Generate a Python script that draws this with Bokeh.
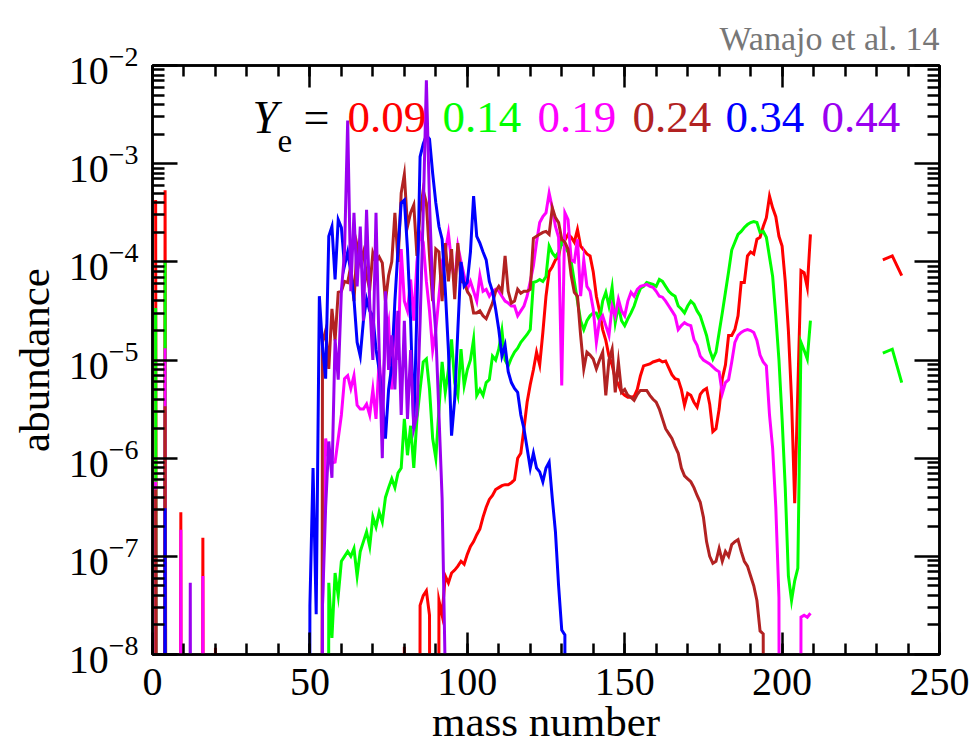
import numpy as np
from bokeh.plotting import figure
from bokeh.models import Range1d, FixedTicker, LinearAxis, LogAxis, Label
from bokeh.embed import file_html
from bokeh.resources import INLINE

# log10(abundance); Z marks "not produced" (far below the axis)
Z = -30.0
NAN = float("nan")

# ---------------- Ye = 0.09 (red)
red_light_A = [1, 2, 3, 4, 5, 8, 9, 10, 15, 16, 17, 19, 20, 21, 79, 80, 81, 84]
red_light_L = [-3.37, Z, Z, -3.27, Z, Z, -6.55, Z, Z, -6.81, Z, Z, -7.93, Z, Z, -7.92, Z, Z]
red_main_A = list(range(85, 210))
red_main_L = [
    -7.5, -7.4, -7.35, -7.6, Z, Z, -7.45, -7.6, -7.2, -7.27,
    -7.17, -7.14, -7.1, -7.05, -7.08, -6.98, -6.9, -6.85, -6.78, -6.72,
    -6.6, -6.5, -6.42, -6.38, -6.32, -6.3, -6.28, -6.27, -6.27, -6.25,
    -6.22, -6.0, -5.95, -5.7, -5.43, -5.25, -5.1, -4.92, -5.05, -4.72,
    -4.35, -4.1, -4.05, -3.98, -3.95, -3.77, -3.78, -3.72, -3.75, -3.8,
    -3.67, -3.84, -3.88, -3.92, -3.94, -4.1, -4.35, -4.5, -4.69, -4.8,
    -4.96, -5.05, -5.19, -5.25, -5.33, -5.36, -5.38, -5.38, -5.37, -5.3,
    -5.16, -5.06, -5.05, -5.04, -5.02, -5.01, -5.0, -5.02, -5.01, -5.08,
    -5.15, -5.19, -5.2, -5.3, -5.46, -5.34, -5.36, -5.43, -5.48, -5.35,
    -5.31, -5.29, -5.45, -5.73, -5.7, -5.5, -5.19, -5.05, -4.75, -4.75,
    -4.69, -4.55, -4.21, -4.21, -3.94, -3.9, -3.92, -3.77, -3.75, -3.64,
    -3.55, -3.33, -3.45, -3.54, -3.74, -3.84, -4.2, -4.7, -5.4, -6.46,
    -5.3, -4.09, -4.11, -4.26, -3.72,
]
red_act_A = [232, 235, 238]
red_act_L = [-3.98, -3.94, -4.14]

# ---------------- Ye = 0.14 (green)
green_light_A = [1, 2, 3, 4, 5]
green_light_L = [-4.47, Z, Z, -3.99, Z]
green_main_A = list(range(55, 210))
green_main_L = [
    Z, -7.27, -7.83, -7.17, -7.4, -7.05, -7.0, -6.95, -7.0, -6.92,
    -7.2, -6.95, -6.85, -6.75, -6.9, -6.6, -6.7, -6.55, -6.65, -6.4,
    -6.3, -6.21, -6.3, -6.15, -6.1, -5.6, -5.97, -5.67, -6.1, -5.6,
    -5.3, -5.02, -4.99, -5.3, -5.8, -6.0, -5.5, -5.02, -5.33, -5.1,
    -4.79, -5.23, -5.36, -4.89, -5.26, -5.1, -5.0, -4.79, -5.36, -5.3,
    -5.36, -5.23, -5.2, -4.96, -5.0, -4.89, -4.7, -5.0, -5.06, -4.98,
    -4.92, -4.88, -4.82, -4.78, -4.74, -4.69, -4.21, -4.2, -4.18, -4.2,
    -4.15, -3.84, -3.91, -3.95, -3.9, -3.8, -3.85, -3.9, -4.0, -4.2,
    -4.4, -4.6, -4.69, -4.6, -4.55, -4.52, -4.52, -4.6, -4.4, -4.31,
    -4.45, -4.26, -4.62, -4.45, -4.6, -4.65, -4.58, -4.52, -4.45, -4.35,
    -4.27, -4.25, -4.21, -4.22, -4.23, -4.25, -4.18, -4.2, -4.25, -4.3,
    -4.33, -4.35, -4.45, -4.48, -4.52, -4.45, -4.4, -4.43, -4.5, -4.55,
    -4.65, -4.75, -4.9, -4.99, -4.92, -4.72, -4.52, -4.31, -4.1, -3.88,
    -3.8, -3.72, -3.69, -3.65, -3.62, -3.6, -3.59, -3.6, -3.7, -3.69,
    -3.75, -3.95, -4.15, -4.55, -5.0, -5.6, -6.3, -7.2, -7.45, -7.25,
    -7.12, -4.82, -4.9, -4.99, -4.6,
]
green_act_A = [232, 235, 238]
green_act_L = [-4.93, -4.89, -5.23]

# ---------------- Ye = 0.19 (magenta)
magenta_light_A = [1, 2, 3, 4, 5, 8, 9, 10, 15, 16, 17]
magenta_light_L = [-6.24, Z, Z, -4.88, Z, Z, -6.73, Z, Z, -7.2, Z]
magenta_main_A = list(range(53, 210))
magenta_main_L = [
    Z, -7.5, -5.8, -6.0, -6.05, -6.04, -5.8, -5.56, -5.19, -5.16,
    -5.29, -5.16, -5.46, -5.5, -5.5, -5.45, -5.56, -5.3, -5.6, -5.0,
    -5.4, -4.8, -4.62, -5.3, -4.5, -5.0, -3.87, -4.4, -4.5, -4.18,
    -4.6, -4.0, -3.71, -3.8, -4.2, -4.5, -4.9, -4.7, -4.35, -4.0,
    -3.9, -3.71, -4.0, -4.21, -3.84, -4.0, -4.14, -4.28, -4.2, -4.3,
    -4.4, -4.14, -4.3, -4.28, -4.35, -4.3, -4.28, -4.3, -4.35, -4.4,
    -4.42, -4.45, -4.45, -4.55, -4.5, -4.45, -4.35, -4.2, -4.04, -3.8,
    -3.6, -3.54, -3.5, -3.3, -3.45, -3.64, -3.75, -5.26, -3.5, -3.57,
    -3.98, -4.0, -3.77, -4.35, -3.98, -4.25, -4.3, -4.48, -4.82, -4.6,
    -4.55, -4.65, -4.75, -4.45, -4.55, -4.38, -4.5, -4.55, -4.4, -4.31,
    -4.35, -4.28, -4.25, -4.24, -4.23, -4.25, -4.26, -4.3, -4.35, -4.36,
    -4.4, -4.45, -4.5, -4.55, -4.69, -4.65, -4.62, -4.64, -4.65, -4.79,
    -4.85, -4.96, -5.0, -5.02, -5.04, -5.07, -5.1, -5.12, -5.34, -5.23,
    -5.2, -5.02, -4.82, -4.75, -4.72, -4.7, -4.69, -4.7, -4.72, -4.8,
    -4.95, -5.02, -5.06, -5.56, -5.9, -6.5, -7.42, Z, Z, Z,
    Z, Z, Z, -7.62, -7.6, -7.62, -7.58,
]

# ---------------- Ye = 0.24 (brown)
brown_light_A = [1, 2, 3, 4, 5]
brown_light_L = [-6.32, Z, Z, -5.47, Z]
brown_main_A = list(range(53, 196))
brown_main_L = [
    Z, -4.82, -4.7, -5.09, -4.48, -4.8, -4.31, -4.3, -4.2, -4.21,
    -4.04, -4.4, -3.84, -4.01, -3.9, -4.14, -4.28, -3.91, -4.0, -3.95,
    -4.01, -4.4, -4.14, -4.0, -3.5, -4.0, -3.3, -3.11, -3.64, -3.5,
    -3.42, -3.94, -3.5, -3.27, -3.4, -3.94, -4.4, -3.87, -3.9, -4.4,
    -3.81, -4.2, -3.87, -4.38, -3.81, -4.2, -4.21, -4.3, -4.35, -4.52,
    -4.52, -4.5, -4.55, -4.58, -4.5, -4.42, -4.3, -4.25, -4.3, -3.94,
    -4.3, -4.42, -4.4, -4.28, -4.32, -4.3, -4.3, -4.28, -3.76, -3.74,
    -3.72, -3.7, -3.69, -3.72, -3.45, -3.55, -3.6, -3.77, -3.8, -3.87,
    -4.14, -4.31, -4.35, -4.75, -5.09, -4.92, -4.95, -4.99, -5.09, -5.0,
    -4.92, -5.36, -5.0, -4.89, -5.33, -5.02, -5.33, -5.3, -5.36, -5.38,
    -5.41, -5.35, -5.31, -5.31, -5.31, -5.36, -5.4, -5.43, -5.5, -5.6,
    -5.7, -5.75, -5.8, -5.88, -5.95, -6.1, -6.18, -6.21, -6.24, -6.3,
    -6.38, -6.45, -6.6, -6.85, -7.0, -7.07, -7.05, -6.92, -7.05, -6.95,
    -7.0, -6.88, -6.85, -6.83, -6.95, -7.05, -7.1, -7.2, -7.3, -7.45,
    -7.76, -7.79, Z,
]

# ---------------- Ye = 0.34 (blue)
blue_light_A = [3, 4, 5]
blue_light_L = [Z, -6.51, Z]
blue_main_A = list(range(49, 133))
blue_main_L = [
    Z, -7.5, -6.1, -7.59, -4.35, -4.86, -5.19, -3.74, -3.64, -4.18,
    -3.57, -3.65, -4.04, -3.9, -4.1, -4.38, -4.82, -4.96, -4.6, -4.38,
    -4.5, -4.55, -4.89, -5.1, -5.4, -5.8, -5.3, -5.06, -4.4, -3.87,
    -3.4, -3.37, -3.87, -4.6, -5.7, -4.48, -2.93, -2.8, -2.71, -2.75,
    -3.1, -3.4, -3.64, -3.77, -4.28, -4.9, -5.77, -5.4, -4.69, -4.0,
    -4.25, -4.21, -3.9, -3.33, -3.74, -3.81, -3.9, -3.98, -4.2, -4.3,
    -4.48, -4.69, -4.96, -4.85, -5.12, -5.23, -5.29, -5.33, -5.56, -5.7,
    -5.9, -6.1, -5.95, -6.1, -6.14, -6.24, -6.1, -6.04, -6.41, -6.75,
    -7.3, -7.75, -7.8, Z,
]

# ---------------- Ye = 0.44 (purple)
purple_light_A = [11, 12, 13]
purple_light_L = [Z, -7.27, Z]
purple_main_A = list(range(53, 95))
purple_main_L = [
    Z, -7.5, -6.5, -5.83, -6.2, -4.79, -5.2, -4.3, -3.9, -2.56,
    -4.3, -3.5, -4.25, -3.64, -4.6, -3.47, -4.42, -5.0, -3.5, -4.9,
    -6.0, -4.3, -5.1, -4.75, -5.3, -4.5, -5.56, -4.6, -5.6, -4.9,
    -5.7, -5.56, -4.62, -3.5, -2.15, -3.4, -4.3, -4.72, -5.56, -6.41,
    -8.2, Z,
]

ye_labels = ["0.09", "0.14", "0.19", "0.24", "0.34", "0.44"]
colors = ["#FF0000", "#00FF00", "#FF00FF", "#B22222", "#0000FF", "#9A00F0"]

series = [
    [(red_light_A, red_light_L), (red_main_A, red_main_L), (red_act_A, red_act_L)],
    [(green_light_A, green_light_L), (green_main_A, green_main_L), (green_act_A, green_act_L)],
    [(magenta_light_A, magenta_light_L), (magenta_main_A, magenta_main_L)],
    [(brown_light_A, brown_light_L), (brown_main_A, brown_main_L)],
    [(blue_light_A, blue_light_L), (blue_main_A, blue_main_L)],
    [(purple_light_A, purple_light_L), (purple_main_A, purple_main_L)],
]

SERIF = "Liberation Serif"

p = figure(width=977, height=747,
           x_range=Range1d(0, 250), y_range=Range1d(1e-8, 1e-2),
           y_axis_type="log", output_backend="svg", toolbar_location=None,
           min_border_left=152, min_border_right=38,
           min_border_top=65, min_border_bottom=90)
p.grid.visible = False
p.background_fill_color = "white"
p.border_fill_color = "white"
p.outline_line_color = "black"
p.outline_line_width = 2.5

for segs, color in zip(series, colors):
    xs, ys = [], []
    for k, (A, L) in enumerate(segs):
        assert len(A) == len(L)
        if k > 0 and A[0] > xs[-1] + 10:
            xs.append(NAN)
            ys.append(NAN)
        xs.extend(A)
        ys.extend(L)
    y = np.power(10.0, np.array(ys, dtype=float))
    p.line(np.array(xs, dtype=float), y, line_color=color, line_width=3,
           line_join="miter")

xt = FixedTicker(ticks=[0, 50, 100, 150, 200, 250],
                 minor_ticks=[v for v in range(0, 251, 10)])
decades = [1e-8, 1e-7, 1e-6, 1e-5, 1e-4, 1e-3, 1e-2]
yminor = [m * d for d in decades[:-1] for m in range(2, 10)]
yt = FixedTicker(ticks=decades, minor_ticks=yminor)

bottom = p.below[0]
left = p.left[0]
bottom.ticker = xt
left.ticker = yt

top = LinearAxis(ticker=xt)
right = LogAxis(ticker=yt)
p.add_layout(top, "above")
p.add_layout(right, "right")

for ax in [bottom, left, top, right]:
    ax.axis_line_width = 2.5
    ax.axis_line_color = "black"
    ax.major_tick_line_width = 2.5
    ax.minor_tick_line_width = 2.5
    ax.major_tick_out = 0
    ax.minor_tick_out = 0
    ax.major_label_text_font = SERIF
    ax.major_label_text_font_size = "40px"
    ax.major_label_text_color = "black"
    ax.axis_label_text_font = SERIF
    ax.axis_label_text_font_style = "normal"
    ax.axis_label_text_font_size = "43px"
    ax.axis_label_text_color = "black"

for ax in [bottom, top]:
    ax.major_tick_in = 22
    ax.minor_tick_in = 11
for ax in [left, right]:
    ax.major_tick_in = 25
    ax.minor_tick_in = 12

for ax in [top, right]:
    ax.major_label_text_font_size = "2px"
    ax.major_label_text_alpha = 0
    ax.major_label_standoff = 0

bottom.axis_label = "mass number"
bottom.major_label_standoff = 14
bottom.axis_label_standoff = 0
left.axis_label = "abundance"
left.major_label_standoff = 14
left.axis_label_standoff = 8

p.title.text = "Wanajo et al. 14"
p.title.align = "right"
p.title.text_font = SERIF
p.title.text_font_size = "34px"
p.title.text_font_style = "normal"
p.title.text_color = "#777777"
p.title.standoff = 18

# legend text  "Y_e = 0.09 0.14 ..."  (screen units relative to the plot frame)
p.add_layout(Label(x=100, y=537, x_units="screen", y_units="screen", text="Y",
                   text_font=SERIF, text_font_style="italic", text_font_size="46px",
                   text_color="black", text_baseline="alphabetic"))
p.add_layout(Label(x=125, y=514, x_units="screen", y_units="screen", text="e",
                   text_font=SERIF, text_font_size="33px",
                   text_color="black", text_baseline="alphabetic"))
p.add_layout(Label(x=151, y=537, x_units="screen", y_units="screen", text="=",
                   text_font=SERIF, text_font_size="46px",
                   text_color="black", text_baseline="alphabetic"))
label_x = [195, 290, 385, 480, 573, 669]
for lx, txt, c in zip(label_x, ye_labels, colors):
    p.add_layout(Label(x=lx, y=537, x_units="screen", y_units="screen", text=txt,
                       text_font=SERIF, text_font_size="45px",
                       text_color=c, text_baseline="alphabetic"))

open("out.html", "w").write(file_html(p, INLINE))
